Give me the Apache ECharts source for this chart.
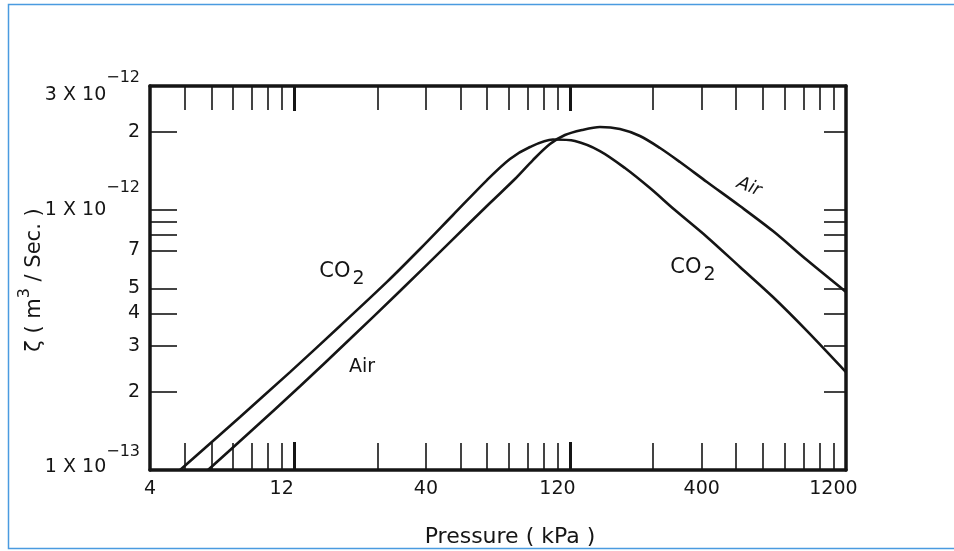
<!DOCTYPE html>
<html><head><meta charset="utf-8">
<script src="https://cdn.jsdelivr.net/npm/echarts@6/dist/echarts.min.js"></script>
<style>html,body{margin:0;padding:0;background:#fff}#c{width:954px;height:551px}</style>
</head><body><div id="c"></div>
<script>
// Pressure (kPa) and zeta (m^3/s)
const co2Pressure = [5.14, 8.48, 12.87, 19.53, 28.91, 38.08, 50.16, 66.62, 80.69, 95.36, 115.5, 138.8, 171.0, 210.7, 259.6, 319.8, 417.7, 550.2, 724.8, 962.4, 1333.33];
const co2Zeta = [1.00e-13, 1.60e-13, 2.38e-13, 3.58e-13, 5.29e-13, 7.08e-13, 9.57e-13, 1.304e-12, 1.571e-12, 1.747e-12, 1.867e-12, 1.842e-12, 1.686e-12, 1.451e-12, 1.215e-12, 1.000e-12, 7.88e-13, 6.04e-13, 4.63e-13, 3.43e-13, 2.38e-13];
const airPressure = [6.49, 9.22, 13.99, 21.23, 32.24, 48.93, 68.30, 84.13, 97.77, 112.7, 127.7, 147.2, 171.0, 202.1, 238.8, 282.3, 333.5, 417.7, 550.2, 724.8, 962.4, 1333.33];
const airZeta = [1.00e-13, 1.40e-13, 2.10e-13, 3.19e-13, 4.88e-13, 7.53e-13, 1.064e-12, 1.316e-12, 1.557e-12, 1.794e-12, 1.943e-12, 2.031e-12, 2.086e-12, 2.049e-12, 1.926e-12, 1.732e-12, 1.530e-12, 1.282e-12, 1.036e-12, 8.30e-13, 6.42e-13, 4.84e-13];

const xLabelValues = [4, 12, 40, 120, 400, 1200];
const xTickValues = [5.33, 6.67, 8, 9.33, 10.67, 12, 13.33, 26.67, 40, 53.33, 66.67, 80, 93.33, 106.67, 120, 133.33, 266.67, 400, 533.33, 666.67, 800, 933.33, 1066.67, 1200];
const xBoldTickValues = [13.33, 133.33];
const yLabelValues = [1e-13, 2e-13, 3e-13, 4e-13, 5e-13, 7e-13, 1e-12, 2e-12, 3e-12];
const yTickValues = [2e-13, 3e-13, 4e-13, 5e-13, 7e-13, 8e-13, 9e-13, 1e-12, 2e-12];

const INK = '#151515';
const FONT = 'DejaVu Sans';

function yFmt(v) {
  const m = Math.round(v / 1e-13 * 100) / 100;
  if (m === 1) return '{b1|1 X 10}{s1|−13}';
  if (m === 10) return '{b|1 X 10}{s|−12}';
  if (m === 30) return '{b3|3 X 10}{s3|−12}';
  return '{b|' + (m >= 10 ? m / 10 : m) + '}';
}

const chart = echarts.init(document.getElementById('c'), null, {renderer: 'canvas'});
const xBase = {type: 'log', logBase: 10, min: 4, max: 1333.33, gridIndex: 0, splitLine: {show: false}};
const yBase = {type: 'log', logBase: 10, min: 1e-13, max: 3e-12, gridIndex: 0, splitLine: {show: false}};
const lineStyleAxis = {color: INK, width: 3.5};

chart.setOption({
  animation: false,
  backgroundColor: '#fff',
  grid: {left: 150, right: 108, top: 86, bottom: 81},
  xAxis: [
    Object.assign({}, xBase, {
      position: 'bottom',
      axisLine: {show: true, onZero: false, lineStyle: lineStyleAxis},
      axisTick: {show: true, inside: true, length: 27, customValues: xTickValues, lineStyle: {color: INK, width: 1.6}},
      axisLabel: {show: true, customValues: xLabelValues, margin: 10, fontSize: 19, fontFamily: FONT, color: INK,
        formatter: v => String(Math.round(v))}
    }),
    Object.assign({}, xBase, {
      position: 'top',
      axisLine: {show: true, onZero: false, lineStyle: lineStyleAxis},
      axisTick: {show: true, inside: true, length: 24, customValues: xTickValues, lineStyle: {color: INK, width: 1.6}},
      axisLabel: {show: false}
    }),
    Object.assign({}, xBase, {
      position: 'bottom',
      axisLine: {show: false, onZero: false},
      axisTick: {show: true, inside: true, length: 28, customValues: xBoldTickValues, lineStyle: {color: INK, width: 3}},
      axisLabel: {show: false}
    }),
    Object.assign({}, xBase, {
      position: 'top',
      axisLine: {show: false, onZero: false},
      axisTick: {show: true, inside: true, length: 25, customValues: xBoldTickValues, lineStyle: {color: INK, width: 3}},
      axisLabel: {show: false}
    })
  ],
  yAxis: [
    Object.assign({}, yBase, {
      position: 'left',
      axisLine: {show: true, onZero: false, lineStyle: lineStyleAxis},
      axisTick: {show: true, inside: true, length: 27, customValues: yTickValues, lineStyle: {color: INK, width: 1.6}},
      axisLabel: {show: true, customValues: yLabelValues, margin: 10, formatter: yFmt,
        fontFamily: FONT, fontSize: 19, color: INK,
        rich: {
          b: {fontFamily: FONT, fontSize: 19, color: INK, verticalAlign: 'middle'},
          s: {fontFamily: FONT, fontSize: 16, color: INK, verticalAlign: 'middle', padding: [0, 0, 44, 0]},
          b1: {fontFamily: FONT, fontSize: 19, color: INK, verticalAlign: 'middle', padding: [0, 0, 6, 0]},
          s1: {fontFamily: FONT, fontSize: 16, color: INK, verticalAlign: 'middle', padding: [0, 0, 36, 0]},
          b3: {fontFamily: FONT, fontSize: 19, color: INK, verticalAlign: 'middle', padding: [18, 0, 0, 0]},
          s3: {fontFamily: FONT, fontSize: 16, color: INK, verticalAlign: 'middle', padding: [0, 0, 16, 0]}
        }}
    }),
    Object.assign({}, yBase, {
      position: 'right',
      axisLine: {show: true, onZero: false, lineStyle: lineStyleAxis},
      axisTick: {show: true, inside: true, length: 22, customValues: yTickValues, lineStyle: {color: INK, width: 1.6}},
      axisLabel: {show: false}
    })
  ],
  series: [
    {name: 'CO2', type: 'line', xAxisIndex: 0, yAxisIndex: 0, symbol: 'none', smooth: 0.3,
      lineStyle: {color: INK, width: 2.6}, data: co2Pressure.map((p, i) => [p, co2Zeta[i]])},
    {name: 'Air', type: 'line', xAxisIndex: 0, yAxisIndex: 0, symbol: 'none', smooth: 0.3,
      lineStyle: {color: INK, width: 2.6}, data: airPressure.map((p, i) => [p, airZeta[i]])}
  ],
  graphic: [
    {type: 'rect', silent: true, shape: {x: 8.5, y: 4.5, width: 1000, height: 544},
      style: {fill: 'none', stroke: '#4a9be0', lineWidth: 1.5}},
    {type: 'text', x: 510, y: 537, silent: true,
      style: {text: 'Pressure ( kPa )', fontFamily: FONT, fontSize: 22, fill: INK, align: 'center', verticalAlign: 'middle'}},
    {type: 'text', x: 35, y: 280, rotation: Math.PI / 2, silent: true,
      style: {text: '{a|ζ ( m}{s|3}{a| / Sec. )}', align: 'center', verticalAlign: 'middle',
        rich: {a: {fontFamily: FONT, fontSize: 21, fill: INK, verticalAlign: 'middle'},
               s: {fontFamily: FONT, fontSize: 16, fill: INK, verticalAlign: 'middle', padding: [0, 0, 20, 0]}}}},
    {type: 'text', x: 342, y: 272, silent: true,
      style: {text: '{c|CO}{u|2}', align: 'center', verticalAlign: 'middle',
        rich: {c: {fontFamily: FONT, fontSize: 21, fill: INK, verticalAlign: 'middle'},
               u: {fontFamily: FONT, fontSize: 19, fill: INK, verticalAlign: 'middle', padding: [14, 0, 0, 2]}}}},
    {type: 'text', x: 693, y: 268, silent: true,
      style: {text: '{c|CO}{u|2}', align: 'center', verticalAlign: 'middle',
        rich: {c: {fontFamily: FONT, fontSize: 21, fill: INK, verticalAlign: 'middle'},
               u: {fontFamily: FONT, fontSize: 19, fill: INK, verticalAlign: 'middle', padding: [14, 0, 0, 2]}}}},
    {type: 'text', x: 362, y: 367, silent: true,
      style: {text: 'Air', fontFamily: FONT, fontSize: 19, fill: INK, align: 'center', verticalAlign: 'middle'}},
    {type: 'text', x: 749, y: 187, rotation: -0.38, silent: true,
      style: {text: 'Air', fontFamily: FONT, fontSize: 18, fontStyle: 'italic', fill: INK, align: 'center', verticalAlign: 'middle'}}
  ]
});
</script></body></html>
